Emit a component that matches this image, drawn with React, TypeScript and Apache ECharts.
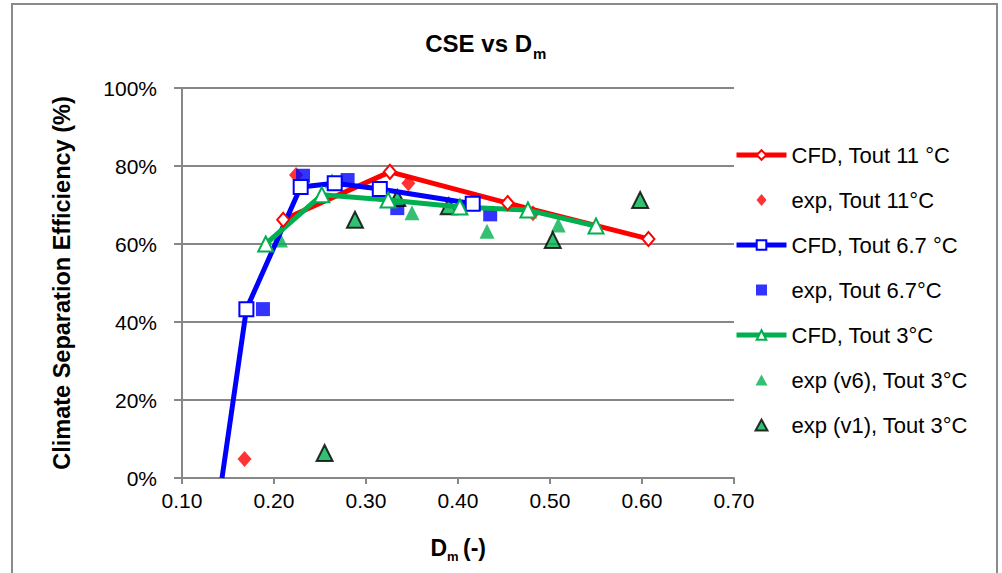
import React, { useEffect, useRef } from "react";
import * as echarts from "echarts";

// ---- data (x = Dm, y = CSE in %) ----
const cfd11X = [0.21, 0.326, 0.454, 0.607];
const cfd11Y = [66.2, 78.5, 70.5, 61.3];

const exp11X = [0.168, 0.224, 0.346, 0.4815];
const exp11Y = [4.9, 77.7, 75.6, 67.9];

const cfd67X = [0.1435, 0.17, 0.229, 0.266, 0.315, 0.416];
const cfd67Y = [0, 43.3, 74.6, 75.6, 74.1, 70.3];

const exp67X = [0.188, 0.2315, 0.28, 0.334, 0.435];
const exp67Y = [43.3, 77.5, 76.4, 69.2, 67.6];

const cfd3X = [0.191, 0.252, 0.324, 0.402, 0.476, 0.55];
const cfd3Y = [60.0, 72.6, 71.3, 69.5, 68.7, 64.6];

const expV6X = [0.207, 0.263, 0.35, 0.4315, 0.509];
const expV6Y = [61, 76.2, 68, 63.3, 64.9];

const expV1X = [0.255, 0.288, 0.334, 0.39, 0.503, 0.598];
const expV1Y = [6.4, 66.2, 71.8, 69.7, 61, 71.3];

const seriesNames = [
  "CFD, Tout 11 °C",
  "exp, Tout 11°C",
  "CFD, Tout 6.7 °C",
  "exp, Tout 6.7°C",
  "CFD, Tout 3°C",
  "exp (v6), Tout 3°C",
  "exp (v1), Tout 3°C",
];

const xTicks = { min: 0.1, max: 0.7, step: 0.1 };
const yTicks = { min: 0, max: 100, step: 20 };

const FONT = '"Liberation Sans", Arial, sans-serif';
const GRAY = "#878787";
const RED = "#FF0000";
const BLUE = "#0000FF";
const GREEN = "#00B050";

// legend icons: small centred shapes inside a 50x12 box (corner moveTo points fix the box)
const ICON_DIAMOND = "path://M0,0M50,12M25,0L30,6L25,12L20,6Z";
const ICON_SQUARE = "path://M0,0M50,12M19.5,0.5L30.5,0.5L30.5,11.5L19.5,11.5Z";
const ICON_TRIANGLE = "path://M0,0M50,12M25,0.5L31,11.5L19,11.5Z";

const zip = (xs: number[], ys: number[]) => xs.map((x, i) => [x, ys[i]]);

export default function App() {
  const ref = useRef<HTMLDivElement>(null);

  useEffect(() => {
    if (!ref.current) return;
    const chart = echarts.init(ref.current, null, { renderer: "svg" });

    const cfd67Data: any[] = zip(cfd67X, cfd67Y).map((v, i) =>
      i === 0 ? { value: v, symbol: "none" } : v
    );

    const legendData = [
      { name: seriesNames[0] },
      { name: seriesNames[1], icon: ICON_DIAMOND },
      { name: seriesNames[2] },
      { name: seriesNames[3], icon: ICON_SQUARE },
      { name: seriesNames[4] },
      { name: seriesNames[5], icon: ICON_TRIANGLE },
      { name: seriesNames[6], icon: ICON_TRIANGLE },
    ];

    const option: any = {
      animation: false,
      backgroundColor: "#ffffff",
      textStyle: { fontFamily: FONT },
      grid: { left: 182, right: 268, top: 88, bottom: 95, containLabel: false },
      xAxis: {
        type: "value",
        min: xTicks.min,
        max: xTicks.max,
        interval: xTicks.step,
        axisLine: { show: true, onZero: false, lineStyle: { color: GRAY, width: 2 } },
        axisTick: { show: true, length: 6, lineStyle: { color: GRAY, width: 2 } },
        axisLabel: {
          formatter: (v: number) => v.toFixed(2),
          fontSize: 21,
          color: "#000",
          margin: 12,
          fontFamily: FONT,
        },
        splitLine: { show: false },
      },
      yAxis: {
        type: "value",
        min: yTicks.min,
        max: yTicks.max,
        interval: yTicks.step,
        axisLine: { show: true, lineStyle: { color: GRAY, width: 2 } },
        axisTick: { show: true, length: 8, lineStyle: { color: GRAY, width: 2 } },
        axisLabel: {
          formatter: "{value}%",
          fontSize: 21,
          color: "#000",
          margin: 25,
          fontFamily: FONT,
        },
        splitLine: { show: true, lineStyle: { color: GRAY, width: 2 } },
        name: "Climate Separation Efficiency (%)",
        nameLocation: "middle",
        nameGap: 108,
        nameTextStyle: { fontSize: 23.5, fontWeight: "bold", color: "#000", fontFamily: FONT },
      },
      legend: {
        orient: "vertical",
        left: 734,
        top: 144,
        padding: 0,
        itemWidth: 50,
        itemHeight: 12,
        itemGap: 23,
        lineStyle: { width: 5 },
        data: legendData,
        textStyle: { fontSize: 22, color: "#000", fontFamily: FONT, lineHeight: 22 },
      },
      graphic: [
        {
          type: "rect",
          shape: { x: 12, y: 4, width: 985, height: 620 },
          style: { fill: "none", stroke: "#8a8a8a", lineWidth: 2 },
          silent: true,
        },
        {
          type: "text",
          x: 532,
          y: 43,
          style: {
            text: "CSE vs D",
            fontSize: 24,
            fontWeight: "bold",
            fontFamily: FONT,
            fill: "#000",
            textAlign: "right",
            textVerticalAlign: "middle",
          },
        },
        {
          type: "text",
          x: 533,
          y: 53,
          style: {
            text: "m",
            fontSize: 15,
            fontWeight: "bold",
            fontFamily: FONT,
            fill: "#000",
            textAlign: "left",
            textVerticalAlign: "middle",
          },
        },
        {
          type: "text",
          x: 447,
          y: 548,
          style: {
            text: "D",
            fontSize: 23,
            fontWeight: "bold",
            fontFamily: FONT,
            fill: "#000",
            textAlign: "right",
            textVerticalAlign: "middle",
          },
        },
        {
          type: "text",
          x: 447,
          y: 556,
          style: {
            text: "m",
            fontSize: 13,
            fontWeight: "bold",
            fontFamily: FONT,
            fill: "#000",
            textAlign: "left",
            textVerticalAlign: "middle",
          },
        },
        {
          type: "text",
          x: 463,
          y: 548,
          style: {
            text: "(-)",
            fontSize: 23,
            fontWeight: "bold",
            fontFamily: FONT,
            fill: "#000",
            textAlign: "left",
            textVerticalAlign: "middle",
          },
        },
      ],
      series: [
        {
          name: seriesNames[0],
          type: "line",
          data: zip(cfd11X, cfd11Y),
          symbol: "diamond",
          symbolSize: [12, 14],
          lineStyle: { color: RED, width: 5 },
          itemStyle: { color: "#fff", borderColor: RED, borderWidth: 2 },
        },
        {
          name: seriesNames[1],
          type: "scatter",
          data: zip(exp11X, exp11Y),
          symbol: "diamond",
          symbolSize: [14, 16],
          itemStyle: { color: RED },
        },
        {
          name: seriesNames[2],
          type: "line",
          data: cfd67Data,
          symbol: "rect",
          symbolSize: 14,
          lineStyle: { color: BLUE, width: 5 },
          itemStyle: { color: "#fff", borderColor: BLUE, borderWidth: 2 },
        },
        {
          name: seriesNames[3],
          type: "scatter",
          data: zip(exp67X, exp67Y),
          symbol: "rect",
          symbolSize: 14,
          itemStyle: { color: BLUE },
        },
        {
          name: seriesNames[4],
          type: "line",
          data: zip(cfd3X, cfd3Y),
          symbol: "triangle",
          symbolSize: 15,
          lineStyle: { color: GREEN, width: 5 },
          itemStyle: { color: "#fff", borderColor: GREEN, borderWidth: 2 },
        },
        {
          name: seriesNames[5],
          type: "scatter",
          data: zip(expV6X, expV6Y),
          symbol: "triangle",
          symbolSize: 15,
          itemStyle: { color: GREEN },
        },
        {
          name: seriesNames[6],
          type: "scatter",
          data: zip(expV1X, expV1Y),
          symbol: "triangle",
          symbolSize: 16,
          itemStyle: { color: GREEN, borderColor: "#000", borderWidth: 2 },
        },
      ],
    };

    chart.setOption(option);
    return () => chart.dispose();
  }, []);

  return (
    <div
      ref={ref}
      style={{ position: "fixed", left: 0, top: 0, width: 1002, height: 573 }}
    />
  );
}
